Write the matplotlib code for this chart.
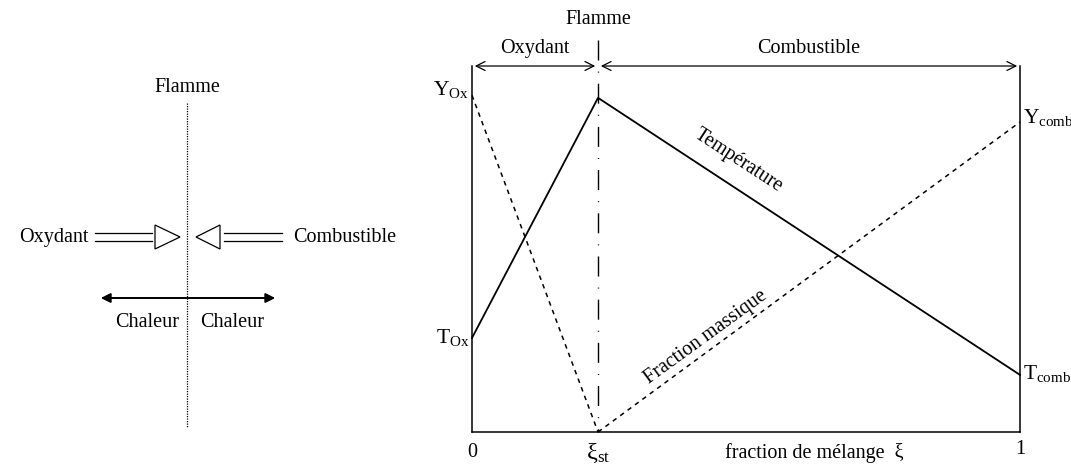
import numpy as np
import matplotlib.pyplot as plt
from matplotlib.patches import Polygon

plt.rcParams['font.family'] = ['Liberation Serif', 'DejaVu Serif']
plt.rcParams['mathtext.fontset'] = 'custom'
plt.rcParams['mathtext.rm'] = 'Liberation Serif'
plt.rcParams['mathtext.it'] = 'Liberation Serif:italic'
fs = 14.5

# mixture fraction profiles (diffusion flame, Burke-Schumann)
xi_st = 0.23
temp_xi = [0, xi_st, 1]
temp_val = [0.257, 0.913, 0.156]
yox_xi = [0, xi_st]
yox_val = [0.92, 0.0]
ycomb_xi = [xi_st, 1]
ycomb_val = [0.0, 0.847]

W, H = 1071, 465
fig = plt.figure(figsize=(W / 100, H / 100), dpi=100)

# ---------- right: profiles vs mixture fraction ----------
x0, x1, yb, yt = 472, 1020, 432, 66
ax = fig.add_axes([x0 / W, 1 - yb / H, (x1 - x0) / W, (yb - yt) / H])
ax.set_xlim(0, 1)
ax.set_ylim(0, 1)
ax.axis('off')

k = dict(color='k', lw=1.1, clip_on=False)
ax.plot([0, 0], [0, 1], **k)
ax.plot([1, 1], [0, 1], **k)
ax.plot([0, 1], [0, 0], **k)

ax.plot(temp_xi, temp_val, color='k', lw=1.3, clip_on=False)
ax.plot(yox_xi, yox_val, color='k', lw=1.1, ls=(0, (3, 3)), clip_on=False)
ax.plot(ycomb_xi, ycomb_val, color='k', lw=1.1, ls=(0, (3, 3)), clip_on=False)

# flame line (drawn top -> bottom)
ax.plot([xi_st, xi_st], [1.071, 0], color='k', lw=1.0, ls=(0, (14.4, 8, 0.7, 8)), clip_on=False)

# top arrows
arr = dict(arrowstyle='<->', color='k', lw=0.9, mutation_scale=16)
ax.annotate('', xy=(0, 1), xytext=(xi_st, 1), arrowprops=arr, annotation_clip=False)
ax.annotate('', xy=(xi_st, 1), xytext=(1, 1), arrowprops=arr, annotation_clip=False)

ax.text(xi_st, 1.126, 'Flamme', ha='center', va='center', fontsize=fs)
ax.text(xi_st / 2, 1.049, 'Oxydant', ha='center', va='center', fontsize=fs)
ax.text((xi_st + 1) / 2, 1.049, 'Combustible', ha='center', va='center', fontsize=fs)

ax.text(-0.005, 0.935, r'Y$_{\mathrm{Ox}}$', ha='right', va='center', fontsize=fs + 1)
ax.text(-0.005, 0.257, r'T$_{\mathrm{Ox}}$', ha='right', va='center', fontsize=fs + 1)
ax.text(1.005, 0.86, r'Y$_{\mathrm{comb}}$', ha='left', va='center', fontsize=fs + 1)
ax.text(1.005, 0.16, r'T$_{\mathrm{comb}}$', ha='left', va='center', fontsize=fs + 1)

ax.text(0, -0.055, '0', ha='center', va='center', fontsize=fs)
ax.text(xi_st, -0.058, r'ξ$_{\mathrm{st}}$', ha='center', va='center', fontsize=fs + 3)
ax.text(0.625, -0.058, 'fraction de mélange  ξ', ha='center', va='center', fontsize=fs)
ax.text(1, -0.047, '1', ha='center', va='center', fontsize=fs)

ax.text(0.487, 0.74, 'Température', ha='center', va='center', fontsize=fs,
        rotation=-33, rotation_mode='anchor')
ax.text(0.427, 0.26, 'Fraction massique', ha='center', va='center', fontsize=fs,
        rotation=36, rotation_mode='anchor')

# ---------- left: counterflow sketch ----------
axl = fig.add_axes([0, 0, 460 / W, 1])
axl.set_xlim(0, 460)
axl.set_ylim(H, 0)
axl.axis('off')

axl.plot([187, 187], [103, 428], color='k', lw=0.9, ls=(0, (1, 1)))
axl.text(187, 88, 'Flamme', ha='center', va='center', fontsize=fs)

for yy in (233, 241):
    axl.plot([95, 152], [yy, yy], color='k', lw=0.9)
    axl.plot([224, 282], [yy, yy], color='k', lw=0.9)
axl.add_patch(Polygon([[155, 225], [155, 249], [180, 237]], closed=True, fill=False, ec='k', lw=0.9))
axl.add_patch(Polygon([[220, 225], [220, 249], [196, 237]], closed=True, fill=False, ec='k', lw=0.9))
axl.text(89, 237, 'Oxydant', ha='right', va='center', fontsize=fs)
axl.text(293, 237, 'Combustible', ha='left', va='center', fontsize=fs)

axl.annotate('', xy=(98, 298), xytext=(278, 298),
             arrowprops=dict(arrowstyle='<|-|>', color='k', lw=1.4, mutation_scale=14))
axl.text(147, 322, 'Chaleur', ha='center', va='center', fontsize=fs)
axl.text(232, 322, 'Chaleur', ha='center', va='center', fontsize=fs)

fig.savefig('out.png', dpi=100)
